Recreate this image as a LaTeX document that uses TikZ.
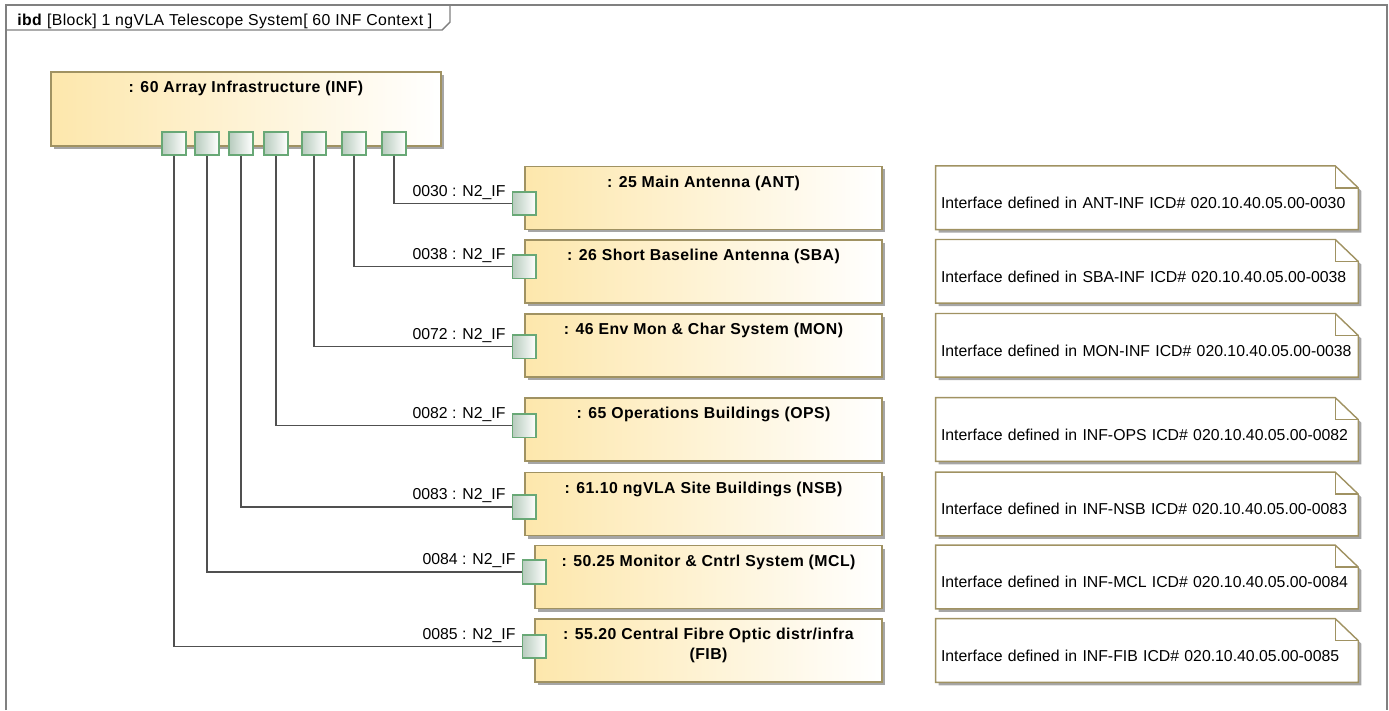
\documentclass[tikz,border=0pt]{standalone}
\usepackage{fontspec}
\setmainfont{Liberation Sans}
\usepackage{xcolor}
\usepackage{tikz}
\usetikzlibrary{positioning,shadows,backgrounds}
\definecolor{blkfill}{RGB}{253,231,172}
\definecolor{blkline}{RGB}{160,146,98}
\definecolor{portline}{RGB}{104,168,118}
\definecolor{portfill}{RGB}{184,204,190}
\definecolor{wiregray}{RGB}{80,80,80}
\definecolor{framegray}{RGB}{128,128,128}

\begin{document}
\begin{tikzpicture}[
  x=0.02cm, y=-0.02cm,
  every node/.style={font=\fontsize{9}{11}\selectfont},
  blk/.style={draw=blkline, line width=0.8pt, left color=blkfill, right color=white, minimum width=7.14cm, minimum height=1.26cm, drop shadow={shadow xshift=0.06cm, shadow yshift=-0.06cm, fill=black!35, opacity=1}},
  blktitle/.style={anchor=north, yshift=-0.08cm, font=\fontsize{9}{11}\selectfont\bfseries\addfontfeature{LetterSpace=3}, align=center},
  port/.style={draw=portline, line width=0.9pt, left color=portfill, right color=white, minimum size=0.47cm, inner sep=0pt},
  portlbl/.style={anchor=base east, inner sep=0pt, xshift=-0.12cm, yshift=0.15cm},
  note/.style={minimum height=1.26cm, text width=8.24cm, inner xsep=0.1cm, align=left, text height=12.4pt, text depth=0pt},
  noteline/.style={draw=blkline, line width=0.8pt, fill=white, drop shadow={shadow xshift=0.06cm, shadow yshift=-0.06cm, fill=black!35, opacity=1}},
  notefold/.style={draw=blkline, line width=0.8pt},
  wire/.style={draw=wiregray, line width=0.7pt},
  frame/.style={draw=framegray, line width=1.2pt},
  tab/.style={draw=framegray, line width=0.8pt}
]
\useasboundingbox (0,0) rectangle (1389,710);

\draw[frame] (6,710) -- (6,5) -- (1387,5) -- (1387,710);
\draw[tab] (6,30) -- (442,30) -- (450,22) -- (450,5);
\node[anchor=base west, inner sep=0pt, font=\fontsize{9}{11}\selectfont\addfontfeature{LetterSpace=2.5}] (hdr) at (17,26) {\textbf{ibd} [Block] 1 ngVLA Telescope System[ 60 INF Context ]};

\node[blk, minimum width=7.8cm, minimum height=1.48cm, label={[blktitle]north:{: 60 Array Infrastructure (INF)}}] (inf) at (246,109) {};
\node[port] (p1) at (174,143.5) {};
\node[port] (p2) at (207,143.5) {};
\node[port] (p3) at (241,143.5) {};
\node[port] (p4) at (276,143.5) {};
\node[port] (p5) at (314,143.5) {};
\node[port] (p6) at (354,143.5) {};
\node[port] (p7) at (394,143.5) {};

\node[blk, label={[blktitle]north:{: 25 Main Antenna (ANT)}}] (ant) at (703.5,197.75) {};
\node[blk, label={[blktitle]north:{: 26 Short Baseline Antenna (SBA)}}] (sba) at (703.5,271.35) {};
\node[blk, label={[blktitle]north:{: 46 Env Mon \& Char System (MON)}}] (mon) at (703.5,345.35) {};
\node[blk, label={[blktitle]north:{: 65 Operations Buildings (OPS)}}] (ops) at (703.5,429.5) {};
\node[blk, label={[blktitle]north:{: 61.10 ngVLA Site Buildings (NSB)}}] (nsb) at (703.5,504) {};
\node[blk, minimum width=6.94cm, label={[blktitle]north:{: 50.25 Monitor \& Cntrl System (MCL)}}] (mcl) at (708.5,577) {};
\node[blk, minimum width=6.94cm, label={[blktitle]north:{: 55.20 Central Fibre Optic distr/infra\\(FIB)}}] (fib) at (708.5,650.5) {};

\node[port, label={[portlbl]west:0030 : N2\_IF}] (antp) at ([yshift=-0.115cm]ant.west) {};
\node[port, label={[portlbl]west:0038 : N2\_IF}] (sbap) at ([yshift=0.09cm]sba.west) {};
\node[port, label={[portlbl]west:0072 : N2\_IF}] (monp) at ([yshift=-0.03cm]mon.west) {};
\node[port, label={[portlbl]west:0082 : N2\_IF}] (opsp) at ([yshift=0.076cm]ops.west) {};
\node[port, label={[portlbl]west:0083 : N2\_IF}] (nsbp) at ([yshift=-0.06cm]nsb.west) {};
\node[port, label={[portlbl]west:0084 : N2\_IF}] (mclp) at ([yshift=0.1cm]mcl.west) {};
\node[port, label={[portlbl]west:0085 : N2\_IF}] (fibp) at ([yshift=0.08cm]fib.west) {};

\node[note, right=1.06cm of ant] (nant) {Interface defined in ANT-INF ICD\# 020.10.40.05.00-0030};
\node[note, right=1.06cm of sba] (nsba) {Interface defined in SBA-INF ICD\# 020.10.40.05.00-0038};
\node[note, right=1.06cm of mon] (nmon) {Interface defined in MON-INF ICD\# 020.10.40.05.00-0038};
\node[note, right=1.06cm of ops] (nops) {Interface defined in INF-OPS ICD\# 020.10.40.05.00-0082};
\node[note, right=1.06cm of nsb] (nnsb) {Interface defined in INF-NSB ICD\# 020.10.40.05.00-0083};
\node[note, right=1.06cm of mcl] (nmcl) {Interface defined in INF-MCL ICD\# 020.10.40.05.00-0084};
\node[note, right=1.06cm of fib] (nfib) {Interface defined in INF-FIB ICD\# 020.10.40.05.00-0085};

\begin{scope}[on background layer]
\foreach \n in {nant,nsba,nmon,nops,nnsb,nmcl,nfib}{
  \draw[noteline] (\n.north west) -- ([xshift=-0.46cm]\n.north east) -- ([yshift=-0.44cm]\n.north east) -- (\n.south east) -- (\n.south west) -- cycle;
  \draw[notefold] ([xshift=-0.46cm]\n.north east) |- ([yshift=-0.44cm]\n.north east);
}
\end{scope}

\draw[wire] (p7) |- (antp);
\draw[wire] (p6) |- (sbap);
\draw[wire] (p5) |- (monp);
\draw[wire] (p4) |- (opsp);
\draw[wire] (p3) |- (nsbp);
\draw[wire] (p2) |- (mclp);
\draw[wire] (p1) |- (fibp);
\end{tikzpicture}
\end{document}
